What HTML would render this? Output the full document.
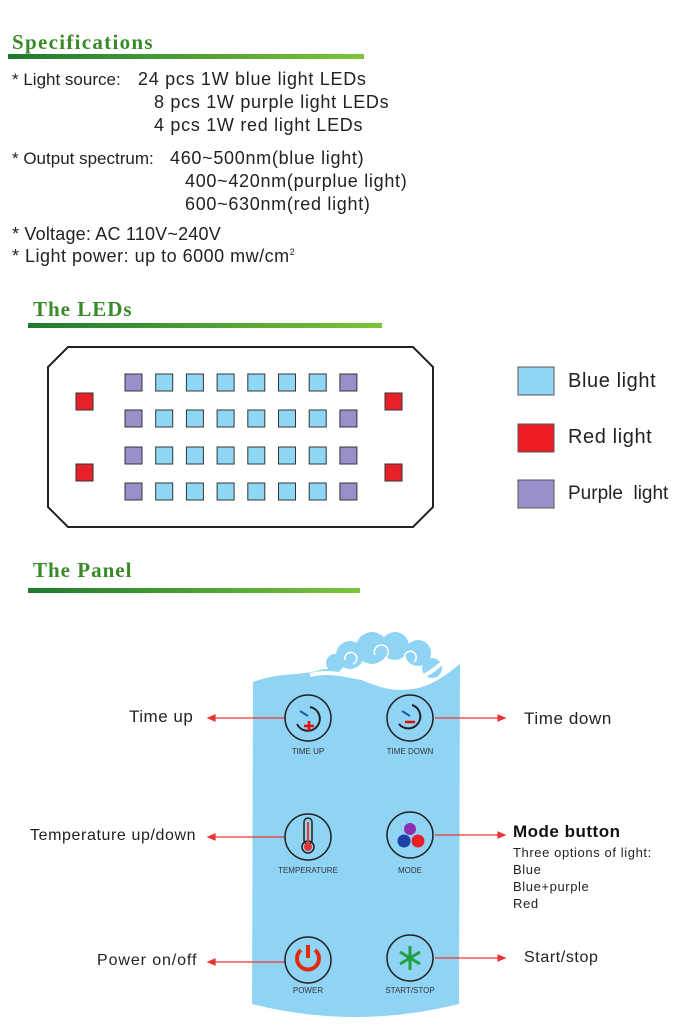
<!DOCTYPE html>
<html><head><style>
body{margin:0;width:686px;height:1028px;background:#fff;position:relative;overflow:hidden;font-family:"Liberation Sans",sans-serif;color:#222}
.t{position:absolute;white-space:nowrap}
.h{position:absolute;font-family:"Liberation Serif",serif;font-weight:bold;color:#3a8a2a;font-size:21px;letter-spacing:1px}
.bar{position:absolute;height:5px;background:linear-gradient(90deg,#1e7a2e,#7cc43a)}
.s{font-size:18px;letter-spacing:0.7px}
</style></head><body>
<div class="h" style="left:12px;top:30px;letter-spacing:1.3px">Specifications</div>
<div class="bar" style="left:8px;top:54px;width:356px"></div>
<div class="t" style="left:12px;top:70px;font-size:17px">* Light source:</div>
<div class="t s" style="left:138px;top:69px">24 pcs 1W blue light LEDs</div>
<div class="t s" style="left:154px;top:92px">8 pcs 1W purple light LEDs</div>
<div class="t s" style="left:154px;top:115px">4 pcs 1W red light LEDs</div>
<div class="t" style="left:12px;top:149px;font-size:17px">* Output spectrum:</div>
<div class="t s" style="left:170px;top:148px">460~500nm(blue light)</div>
<div class="t s" style="left:185px;top:171px">400~420nm(purplue light)</div>
<div class="t s" style="left:185px;top:194px">600~630nm(red light)</div>
<div class="t s" style="left:12px;top:224px;letter-spacing:0.2px">* Voltage: AC 110V~240V</div>
<div class="t s" style="left:12px;top:246px;letter-spacing:0.5px">* Light power: up to 6000 mw/cm<sup style="font-size:9px">2</sup></div>
<div class="h" style="left:33px;top:297px">The LEDs</div>
<div class="bar" style="left:28px;top:323px;width:354px"></div>
<div class="h" style="left:33px;top:558px">The Panel</div>
<div class="bar" style="left:28px;top:588px;width:332px"></div>

<svg width="686" height="1028" style="position:absolute;left:0;top:0">
<polygon points="68,347 413,347 433,367 433,507 413,527 68,527 48,507 48,367" fill="#fff" stroke="#222" stroke-width="2"/>
<g stroke="#333" stroke-width="1">
<rect x="76" y="393" width="17" height="17" fill="#e8202a"/><rect x="76" y="464" width="17" height="17" fill="#e8202a"/>
<rect x="385" y="393" width="17" height="17" fill="#e8202a"/><rect x="385" y="464" width="17" height="17" fill="#e8202a"/>
</g>
<g id="leds" stroke="#333" stroke-width="1"></g>
<rect x="518" y="367" width="36" height="28" fill="#8fd8f5" stroke="#555"/>
<rect x="518" y="424" width="36" height="28" fill="#ee1c25" stroke="#555"/>
<rect x="518" y="480" width="36" height="28" fill="#9b8fcb" stroke="#555"/>
<text x="568" y="387" font-size="20" letter-spacing="0.6" fill="#222" font-family="Liberation Sans">Blue light</text>
<text x="568" y="443" font-size="20" letter-spacing="0.6" fill="#222" font-family="Liberation Sans">Red light</text>
<text x="568" y="499" font-size="19" fill="#222" font-family="Liberation Sans">Purple&#160; light</text>

<path d="M253,682 C280,672 300,676 320,670 C340,664 370,690 400,690 C425,690 440,680 460,664 L459,1004 Q355,1030 252,1004 Z" fill="#8fd4f5"/>
<g fill="#8fd4f5"><circle cx="350" cy="655" r="14"/><circle cx="372" cy="648" r="16"/><circle cx="395" cy="646" r="14"/><circle cx="418" cy="653" r="13"/><circle cx="432" cy="668" r="10"/><circle cx="335" cy="663" r="9"/></g>
<g fill="none" stroke="#fff" stroke-width="1.5"><path d="M345,660 a6,6 0 1 1 8,4"/><path d="M375,655 a7,7 0 1 1 10,3"/><path d="M405,660 a6,6 0 1 1 9,2"/></g>
<path d="M310,675 C340,668 360,682 395,682 C420,682 435,670 445,660" stroke="#fff" stroke-width="4" fill="none"/>
<g stroke="#e33" stroke-width="1.2" fill="#e33">
<line x1="212" y1="718" x2="285" y2="718"/><polygon points="208,718 215,715 215,721"/>
<line x1="435" y1="718" x2="500" y2="718"/><polygon points="505,718 498,715 498,721"/>
<line x1="212" y1="837" x2="285" y2="837"/><polygon points="208,837 215,834 215,840"/>
<line x1="435" y1="835" x2="500" y2="835"/><polygon points="505,835 498,832 498,838"/>
<line x1="212" y1="962" x2="285" y2="962"/><polygon points="208,962 215,959 215,965"/>
<line x1="435" y1="958" x2="500" y2="958"/><polygon points="505,958 498,955 498,961"/>
</g>
<g fill="none" stroke="#222" stroke-width="1.5">
<circle cx="308" cy="718" r="23"/><circle cx="410" cy="718" r="23"/>
<circle cx="308" cy="837" r="23"/><circle cx="410" cy="835" r="23"/>
<circle cx="308" cy="960" r="23"/><circle cx="410" cy="958" r="23"/>
<path d="M310,707 A12,12 0 1 1 297,724" stroke-width="2"/><path d="M412,705 A12,12 0 1 1 399,724" stroke-width="2"/>
<rect x="304" y="818" width="8" height="26" rx="4"/><circle cx="308" cy="847" r="6"/>
</g>
<line x1="300" y1="711" x2="308" y2="716" stroke="#1a5f9f" stroke-width="2"/>
<line x1="402" y1="711" x2="410" y2="716" stroke="#1a5f9f" stroke-width="2"/>
<path d="M309,721v10M304,726h10" stroke="#e00" stroke-width="2.5"/>
<path d="M405,722h10" stroke="#e00" stroke-width="2.5"/>
<circle cx="308" cy="847" r="4" fill="#e33"/><line x1="308" y1="822" x2="308" y2="845" stroke="#e33" stroke-width="2"/>
<circle cx="410" cy="829" r="6" fill="#8e2fb0"/><circle cx="404" cy="841" r="6.5" fill="#1d3fa8"/><circle cx="418" cy="841" r="6.5" fill="#e8202a"/>
<path d="M301,950 A11,11 0 1 0 315,950" stroke="#e02a10" stroke-width="4" fill="none"/><line x1="308" y1="945" x2="308" y2="958" stroke="#e02a10" stroke-width="4"/>
<g stroke="#20a040" stroke-width="3"><line x1="410" y1="946" x2="410" y2="970"/><line x1="400" y1="952" x2="420" y2="964"/><line x1="400" y1="964" x2="420" y2="952"/></g>
<g font-family="Liberation Sans" font-size="8" fill="#333" text-anchor="middle">
<text x="308" y="754">TIME UP</text><text x="410" y="754">TIME DOWN</text>
<text x="308" y="873">TEMPERATURE</text><text x="410" y="873">MODE</text>
<text x="308" y="993">POWER</text><text x="410" y="993">START/STOP</text>
</g>
</svg>
<div class="t" style="left:129px;top:707px;font-size:17px;letter-spacing:0.5px">Time up</div>
<div class="t" style="left:524px;top:709px;font-size:17px;letter-spacing:0.6px">Time down</div>
<div class="t" style="left:30px;top:827px;font-size:16px;letter-spacing:0.6px">Temperature up/down</div>
<div class="t" style="left:513px;top:822px;font-size:17px;letter-spacing:0.5px;font-weight:bold;color:#111">Mode button</div>
<div class="t" style="left:513px;top:844px;font-size:13px;line-height:17px;letter-spacing:0.6px">Three options of light:<br>Blue<br>Blue+purple<br>Red</div>
<div class="t" style="left:97px;top:952px;font-size:16px;letter-spacing:0.9px">Power on/off</div>
<div class="t" style="left:524px;top:949px;font-size:16px;letter-spacing:0.6px">Start/stop</div>
<script>
var g=document.getElementById('leds'),s='';
[374,410,447,483].forEach(function(y){for(var i=0;i<8;i++){var x=125+i*30.7;var c=(i==0||i==7)?'#9b8fcb':'#8fd8f5';s+='<rect x="'+x+'" y="'+y+'" width="17" height="17" fill="'+c+'"/>';}});
g.innerHTML=s;
</script>
</body></html>
